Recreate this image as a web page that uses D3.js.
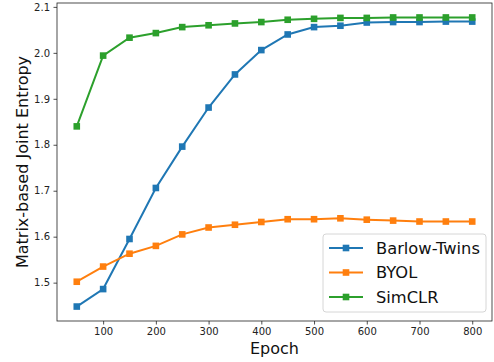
<!DOCTYPE html>
<html><head><meta charset="utf-8">
<script src="https://cdn.jsdelivr.net/npm/d3@7"></script>
<style>body{margin:0;background:#fff}svg{display:block}text{font-family:"DejaVu Sans",sans-serif}</style>
</head><body><svg id="c" width="494" height="362"></svg>
<script>
const epochs = [50,100,150,200,250,300,350,400,450,500,550,600,650,700,750,800];
const barlow = [1.448,1.486,1.595,1.706,1.796,1.881,1.953,2.006,2.040,2.056,2.059,2.066,2.067,2.067,2.068,2.068];
const byol   = [1.502,1.535,1.563,1.580,1.605,1.620,1.626,1.632,1.638,1.638,1.640,1.637,1.635,1.633,1.633,1.633];
const simclr = [1.840,1.994,2.033,2.043,2.056,2.060,2.064,2.067,2.072,2.074,2.076,2.076,2.077,2.077,2.077,2.077];
const seriesNames = ["Barlow-Twins","BYOL","SimCLR"];
const colors = ["#1f77b4","#ff7f0e","#2ca02c"];
const xTicks = [100,200,300,400,500,600,700,800];
const yTicks = [1.5,1.6,1.7,1.8,1.9,2.0,2.1];

const svg = d3.select("#c");
const L=57, R=492, T=3, B=321;
const all = barlow.concat(byol, simclr);
const ymin=d3.min(all), ymax=d3.max(all), yr=ymax-ymin;
const x = d3.scaleLinear().domain([50-37.5, 800+37.5]).range([L,R]);
const y = d3.scaleLinear().domain([ymin-0.05*yr, ymax+0.05*yr]).range([B,T]);

const xa = svg.append("g").attr("transform",`translate(0,${B})`)
  .call(d3.axisBottom(x).tickValues(xTicks).tickSize(3.5).tickPadding(3.5).tickFormat(d3.format("d")));
const ya = svg.append("g").attr("transform",`translate(${L},0)`)
  .call(d3.axisLeft(y).tickValues(yTicks).tickSize(3.5).tickPadding(3.5).tickFormat(d3.format(".1f")));
[xa,ya].forEach(a=>{a.select(".domain").remove();a.selectAll("line").attr("stroke","#222").attr("stroke-width",0.8);
  a.selectAll("text").attr("font-size",10).attr("fill","#222").attr("font-family","DejaVu Sans");});
svg.append("rect").attr("x",L).attr("y",T).attr("width",R-L).attr("height",B-T)
  .attr("fill","none").attr("stroke","#222").attr("stroke-width",0.8);

const data = [barlow, byol, simclr];
const line = d3.line().x((d,i)=>x(epochs[i])).y(d=>y(d));
data.forEach((s,k)=>{
  svg.append("path").datum(s).attr("d",line).attr("fill","none").attr("stroke",colors[k]).attr("stroke-width",2);
  svg.append("g").selectAll("rect").data(s).join("rect")
    .attr("x",(d,i)=>x(epochs[i])-3.3).attr("y",d=>y(d)-3.3).attr("width",6.6).attr("height",6.6)
    .attr("fill",colors[k]);
});

svg.append("text").attr("x",(L+R)/2).attr("y",354).attr("text-anchor","middle").attr("font-size",16).attr("fill","#111").text("Epoch");
svg.append("text").attr("transform",`translate(27.5,${(T+B)/2}) rotate(-90)`).attr("text-anchor","middle").attr("font-size",16).attr("fill","#111").text("Matrix-based Joint Entropy");

const lg = svg.append("g");
lg.append("rect").attr("x",323).attr("y",234).attr("width",163).attr("height",78).attr("rx",3)
  .attr("fill","#fff").attr("fill-opacity",0.8).attr("stroke","#ccc").attr("stroke-width",0.8);
seriesNames.forEach((n,k)=>{
  const yy = 248 + k*24.5;
  lg.append("line").attr("x1",329).attr("x2",363).attr("y1",yy).attr("y2",yy).attr("stroke",colors[k]).attr("stroke-width",2);
  lg.append("rect").attr("x",346-3.3).attr("y",yy-3.3).attr("width",6.6).attr("height",6.6).attr("fill",colors[k]);
  lg.append("text").attr("x",376).attr("y",yy).attr("dy","0.36em").attr("font-size",16.3).attr("fill","#111").text(n);
});
</script></body></html>
